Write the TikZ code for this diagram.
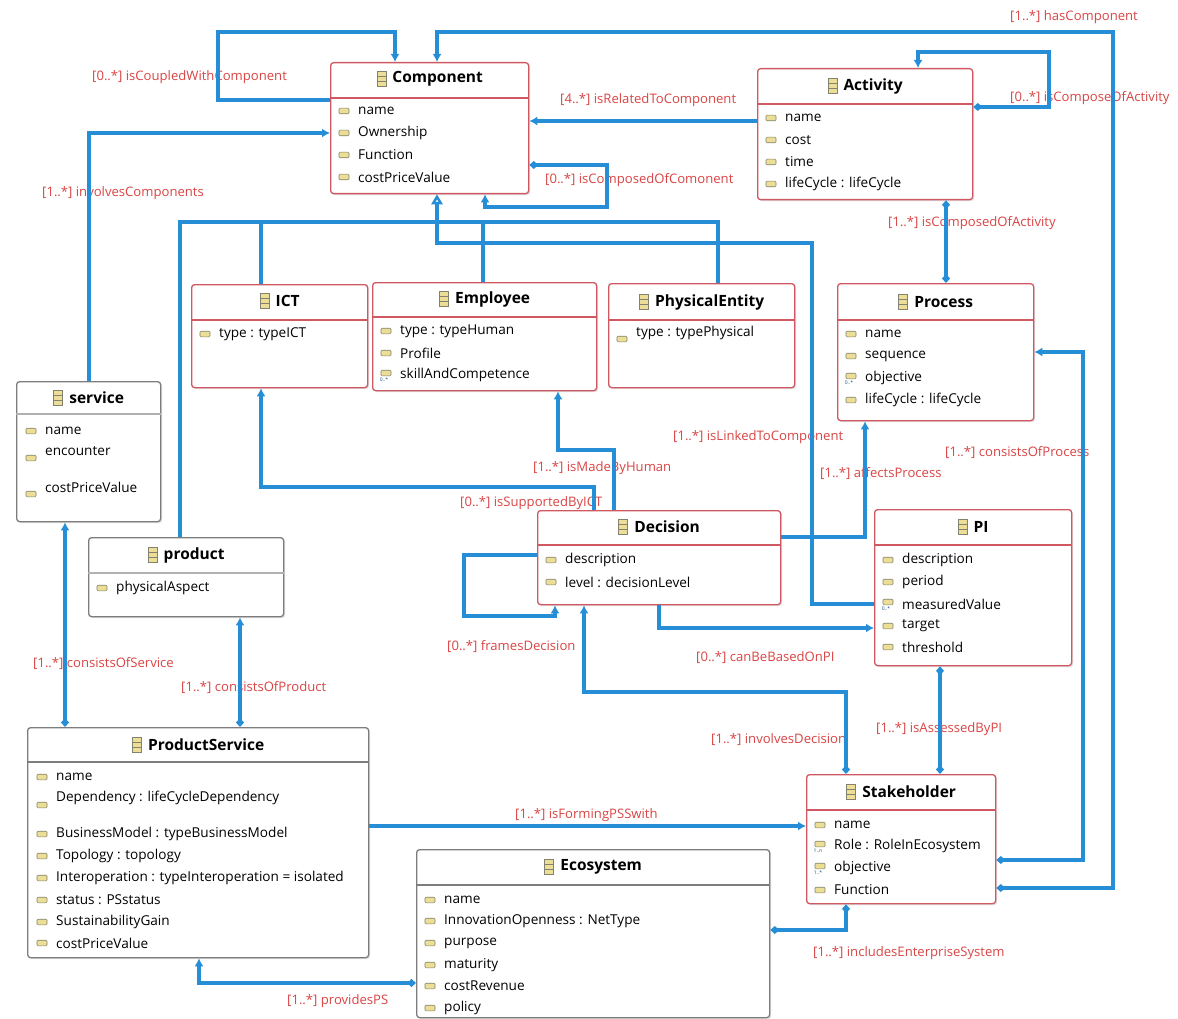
\documentclass[tikz,border=0pt]{standalone}
\usepackage{fontspec}
\setmainfont{Open Sans}
\usetikzlibrary{arrows.meta,shadows}
\definecolor{lnk}{RGB}{38,142,214}
\definecolor{redb}{RGB}{208,88,98}
\definecolor{grayb}{RGB}{125,125,125}
\definecolor{lbl}{RGB}{218,68,68}
\definecolor{icony}{RGB}{236,222,150}
\definecolor{iconb}{RGB}{130,130,110}
\tikzset{
  boxred/.style={draw=redb, line width=1.3pt, rounded corners=3pt, fill=white,
    drop shadow={shadow xshift=1.5pt, shadow yshift=-1.5pt, opacity=.22}},
  boxgray/.style={draw=grayb, line width=1.3pt, rounded corners=3pt, fill=white,
    drop shadow={shadow xshift=1.5pt, shadow yshift=-1.5pt, opacity=.22}},
  ttl/.style={font=\bfseries\fontsize{15.5}{18}\selectfont, inner sep=0pt, xshift=8pt},
  attr/.style={font=\fontsize{13.6}{16}\selectfont, anchor=west, inner sep=0pt},
  lbltxt/.style={text=lbl, font=\fontsize{13.1}{16}\selectfont, anchor=west, inner sep=0pt},
  mult/.style={font=\fontsize{5}{5}\selectfont, text=lnk!60!black, inner sep=0pt},
  rel/.style={draw=lnk, line width=3.2pt, -{Latex[length=8pt,width=9pt]}},
  relD/.style={draw=lnk, line width=3.2pt, {Diamond[length=9pt,width=8pt]}-{Latex[length=8pt,width=9pt]}},
  relDD/.style={draw=lnk, line width=3.2pt, {Diamond[length=9pt,width=8pt]}-{Diamond[length=9pt,width=8pt]}},
  plain/.style={draw=lnk, line width=3.2pt},
  inh/.style={draw=lnk, line width=3.2pt, -{Triangle[open,length=10pt,width=11pt,fill=white]}},
  clsicon/.pic={\draw[iconb, fill=icony, line width=.5pt] (-4.5,-7.5) rectangle (4.5,7.5);
    \draw[iconb, line width=.5pt] (-4.5,-2.5) -- (4.5,-2.5) (-4.5,2.5) -- (4.5,2.5);},
  attricon/.pic={\draw[iconb, fill=icony, line width=.6pt, rounded corners=1pt] (-5,-2.8) rectangle (5,2.8);},
}
% box: name, x1, y1, x2, y2, style
\newcommand\ubox[6]{\node[#6, anchor=north west, inner sep=0pt, minimum width={(#4-#2)*1pt}, minimum height={(#5-#3)*1pt}] (#1) at (#2,#3) {};}
% title: box, y, text, sep y, sep colour
\newcommand\uttl[5]{\node[ttl] (#1-t) at (#1.north |- 0,#2) {#3};
  \pic at ([xshift=-11pt]#1-t.west) {clsicon};
  \draw[#5, line width=1.2pt] (#1.west |- 0,#4) -- (#1.east |- 0,#4);}
% attribute: text x, text y, icon y, text
\newcommand\uatt[4]{\pic at ({#1-14},#3) {attricon}; \node[attr] at (#1,#2) {#4};}
% multi attribute: text x, text y, mult text, text
\newcommand\umul[4]{\pic at ({#1-14},{#2-2}) {attricon}; \node[mult] at ({#1-16},{#2+5}) {#3}; \node[attr] at (#1,#2) {#4};}
\begin{document}
\begin{tikzpicture}[x=1pt,y=-1pt]
\useasboundingbox[fill=white] (0,0) rectangle (1178,1019);

% ---------- labels ----------
\node[lbltxt] (l1) at (92,77) {[0..*] isCoupledWithComponent};
\node[lbltxt] (l2) at (1010,17) {[1..*] hasComponent};
\node[lbltxt] (l3) at (560,100) {[4..*] isRelatedToComponent};
\node[lbltxt] (l4) at (1010,98) {[0..*] isComposeOfActivity};
\node[lbltxt] (l5) at (545,180) {[0..*] isComposedOfComonent};
\node[lbltxt] (l6) at (42,193) {[1..*] involvesComponents};
\node[lbltxt] (l7) at (888,223) {[1..*] isComposedOfActivity};
\node[lbltxt] (l8) at (673,437) {[1..*] isLinkedToComponent};
\node[lbltxt] (l9) at (945,453) {[1..*] consistsOfProcess};
\node[lbltxt] (l10) at (533,468) {[1..*] isMadeByHuman};
\node[lbltxt] (l11) at (820,474) {[1..*] affectsProcess};
\node[lbltxt] (l12) at (460,503) {[0..*] isSupportedByICT};
\node[lbltxt] (l13) at (447,647) {[0..*] framesDecision};
\node[lbltxt] (l14) at (696,658) {[0..*] canBeBasedOnPI};
\node[lbltxt] (l15) at (33,664) {[1..*] consistsOfService};
\node[lbltxt] (l16) at (181,688) {[1..*] consistsOfProduct};
\node[lbltxt] (l17) at (876,729) {[1..*] isAssessedByPI};
\node[lbltxt] (l18) at (711,740) {[1..*] involvesDecision};
\node[lbltxt] (l19) at (515,815) {[1..*] isFormingPSSwith};
\node[lbltxt] (l20) at (813,953) {[1..*] includesEnterpriseSystem};
\node[lbltxt] (l21) at (287,1001) {[1..*] providesPS};

% ---------- boxes ----------
\ubox{comp}{330}{62}{528}{193}{boxred}
\uttl{comp}{79}{Component}{98}{redb}
\uatt{358}{111}{111}{name}
\uatt{358}{133}{133}{Ownership}
\uatt{358}{155}{155}{Function}
\uatt{358}{177}{177}{costPriceValue}

\ubox{act}{757}{68}{972}{199}{boxred}
\uttl{act}{86}{Activity}{104}{redb}
\uatt{785}{118}{118}{name}
\uatt{785}{140}{140}{cost}
\uatt{785}{162}{162}{time}
\uatt{785}{184}{184}{lifeCycle : lifeCycle}

\ubox{ict}{191}{284}{367}{387}{boxred}
\uttl{ict}{301}{ICT}{320}{redb}
\uatt{219}{334}{334}{type : typeICT}

\ubox{emp}{372}{282}{596}{390}{boxred}
\uttl{emp}{299}{Employee}{317}{redb}
\uatt{400}{331}{331}{type : typeHuman}
\uatt{400}{353}{353}{Profile}
\umul{400}{375}{0..*}{skillAndCompetence}

\ubox{phys}{608}{283}{794}{387}{boxred}
\uttl{phys}{302}{PhysicalEntity}{320}{redb}
\uatt{636}{333}{339}{type : typePhysical}

\ubox{proc}{837}{283}{1033}{420}{boxred}
\uttl{proc}{302}{Process}{320}{redb}
\uatt{865}{334}{334}{name}
\uatt{865}{356}{356}{sequence}
\umul{865}{378}{0..*}{objective}
\uatt{865}{400}{400}{lifeCycle : lifeCycle}

\ubox{serv}{16}{381}{160}{521}{boxgray}
\uttl{serv}{398}{service}{414}{grayb!60}
\uatt{45}{431}{431}{name}
\uatt{45}{451}{458}{encounter}
\uatt{45}{487}{494}{costPriceValue}

\ubox{prod}{88}{537}{283}{616}{boxgray}
\uttl{prod}{555}{product}{573}{grayb!60}
\uatt{116}{588}{588}{physicalAspect}

\ubox{dec}{537}{510}{780}{604}{boxred}
\uttl{dec}{527}{Decision}{545}{redb}
\uatt{565}{560}{560}{description}
\uatt{565}{582}{582}{level : decisionLevel}

\ubox{pi}{874}{509}{1071}{665}{boxred}
\uttl{pi}{527}{PI}{545}{redb}
\uatt{902}{560}{560}{description}
\uatt{902}{582}{582}{period}
\umul{902}{604}{0..*}{measuredValue}
\uatt{902}{626}{626}{target}
\uatt{902}{647}{647}{threshold}

\ubox{ps}{27}{727}{368}{957}{boxgray}
\uttl{ps}{745}{ProductService}{762}{grayb}
\uatt{56}{777}{777}{name}
\uatt{56}{798}{805}{Dependency : lifeCycleDependency}
\uatt{56}{834}{834}{BusinessModel : typeBusinessModel}
\uatt{56}{856}{856}{Topology : topology}
\uatt{56}{878}{878}{Interoperation : typeInteroperation = isolated}
\uatt{56}{900}{900}{status : PSstatus}
\uatt{56}{922}{922}{SustainabilityGain}
\uatt{56}{943}{943}{costPriceValue}

\ubox{stake}{806}{774}{995}{903}{boxred}
\uttl{stake}{792}{Stakeholder}{810}{redb}
\uatt{834}{825}{825}{name}
\umul{834}{846}{1..n}{Role : RoleInEcosystem}
\umul{834}{868}{1..*}{objective}
\uatt{834}{890}{890}{Function}

\ubox{eco}{416}{849}{769}{1017}{boxgray}
\uttl{eco}{867}{Ecosystem}{885}{grayb}
\uatt{444}{900}{900}{name}
\uatt{444}{921}{921}{InnovationOpenness : NetType}
\uatt{444}{943}{943}{purpose}
\uatt{444}{965}{965}{maturity}
\uatt{444}{986}{986}{costRevenue}
\uatt{444}{1008}{1008}{policy}

% ---------- connectors ----------
% inheritance tree
\draw[plain] (prod.north -| 180,0) -- (180,222) -- (718,222) -- (phys.north -| 718,0);
\draw[plain] (ict.north -| 261,0) -- (261,222);
\draw[plain] (emp.north -| 483,0) -- (483,222);
\draw[inh] (pi.west |- 0,604) -- (812,604) -- (812,243) -- (437,243) -- (comp.south -| 437,0);
% component loops and links
\draw[rel] (comp.west |- 0,100) -- (218,100) -- (218,32) -- (395,32) -- (comp.north -| 395,0);
\draw[relD] (stake.east |- 0,888) -- (1113,888) -- (1113,32) -- (437,32) -- (comp.north -| 437,0);
\draw[rel] (act.west |- 0,121) -- (comp.east |- 0,121);
\draw[relD] (act.east |- 0,107) -- (1049,107) -- (1049,52) -- (918,52) -- (act.north -| 918,0);
\draw[relD] (comp.east |- 0,165) -- (607,165) -- (607,207) -- (485,207) -- (comp.south -| 485,0);
\draw[rel] (serv.north -| 89,0) -- (89,133) -- (comp.west |- 0,133);
% product service
\draw[relD] (ps.north -| 65,0) -- (serv.south -| 65,0);
\draw[relD] (ps.north -| 240,0) -- (prod.south -| 240,0);
% decision
\draw[rel] (dec.north -| 594,0) -- (594,487) -- (261,487) -- (ict.south -| 261,0);
\draw[rel] (dec.north -| 614,0) -- (614,450) -- (558,450) -- (emp.south -| 558,0);
\draw[rel] (dec.east |- 0,537) -- (865,537) -- (proc.south -| 865,0);
\draw[rel] (dec.west |- 0,555) -- (464,555) -- (464,616) -- (555,616) -- (dec.south -| 555,0);
\draw[rel] (dec.south -| 659,0) -- (659,628) -- (pi.west |- 0,628);
% stakeholder
\draw[relD] (stake.north -| 846,0) -- (846,692) -- (584,692) -- (dec.south -| 584,0);
\draw[relDD] (stake.north -| 940,0) -- (pi.south -| 940,0);
\draw[relD] (stake.east |- 0,860) -- (1083,860) -- (1083,352) -- (proc.east |- 0,352);
\draw[relDD] (proc.north -| 946,0) -- (act.south -| 946,0);
\draw[rel] (ps.east |- 0,826) -- (stake.west |- 0,826);
\draw[relDD] (eco.east |- 0,930) -- (846,930) -- (stake.south -| 846,0);
\draw[relD] (eco.west |- 0,983) -- (199,983) -- (ps.south -| 199,0);
\end{tikzpicture}
\end{document}
